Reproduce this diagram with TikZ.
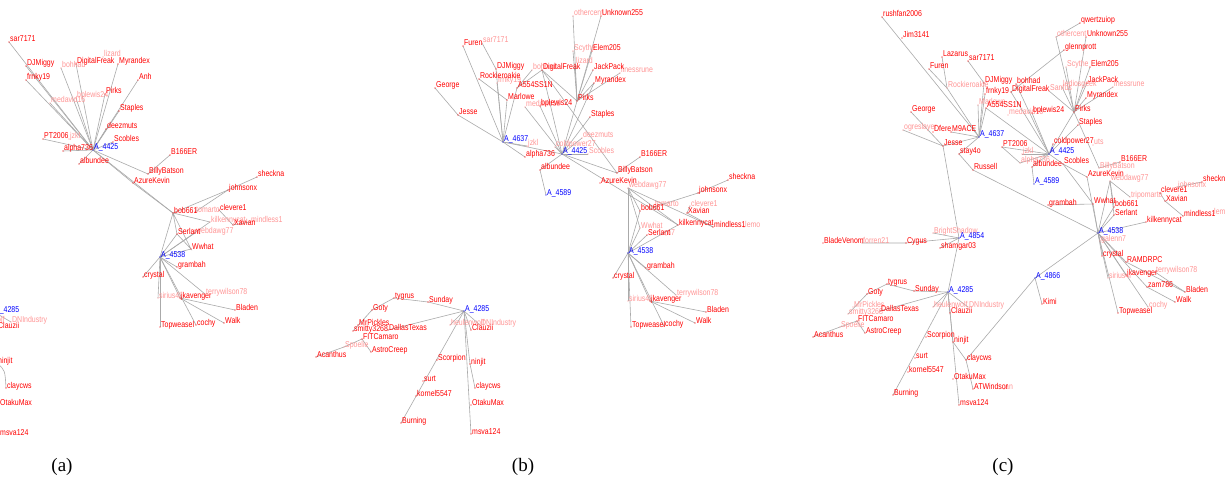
\documentclass[tikz,border=0pt]{standalone}
\usepackage{fontspec}
\newfontfamily\lblfont[FakeStretch=0.82]{Liberation Sans}
\newfontfamily\capfont{Liberation Serif}
\definecolor{cr}{RGB}{255,0,0}
\definecolor{cp}{RGB}{255,150,150}
\definecolor{cb}{RGB}{0,0,255}
\definecolor{egray}{RGB}{170,170,170}
\pgfdeclarelayer{bg}
\pgfdeclarelayer{back}
\pgfsetlayers{back,bg,main}
\tikzset{
  lbl/.style={font=\lblfont\fontsize{8.5}{8.5}\selectfont, inner sep=0pt, anchor=base west, xshift=1pt},
  Lr/.style={lbl,text=cr}, Lp/.style={lbl,text=cp}, Lb/.style={lbl,text=cb},
  edge/.style={draw=egray, line width=0.6pt},
  caption/.style={font=\capfont\fontsize{19}{19}\selectfont, inner sep=0pt}
}
\newcommand\nodept[5]{\coordinate (#1) at (#2,#3); \node[L#4] (#1-t) at (#1) {#5}; \fill[c#4] (#1) circle (0.7);}
\begin{document}
\begin{tikzpicture}[x=1pt,y=-1pt]
\begin{pgfonlayer}{back}
\fill[white] (0,0) rectangle (1225,481);
\end{pgfonlayer}
\useasboundingbox (0,0) rectangle (1225,481);
% ================= panel (a) =================
\nodept{a-sar}{9}{42}{r}{sar7171}
\nodept{a-djm}{26}{66}{r}{DJMiggy}
\nodept{a-frn}{26}{80}{r}{frnky19}
\nodept{a-boh}{61}{68}{p}{bohhad}
\nodept{a-liz}{103}{57}{p}{lizard}
\nodept{a-dig}{76}{64}{r}{DigitalFreak}
\nodept{a-myr}{118}{64}{r}{Myrandex}
\nodept{a-anh}{138}{80}{r}{Anh}
\nodept{a-bpl}{76}{98}{p}{bplewis24}
\nodept{a-med}{50}{103}{p}{medavid16}
\nodept{a-pir}{105}{94}{r}{Pirks}
\nodept{a-sta}{119}{111}{r}{Staples}
\nodept{a-dee}{106}{129}{r}{deezmuts}
\nodept{a-sco}{113}{142}{r}{Scobles}
\nodept{a-jzk}{69}{139}{p}{jzkl}
\nodept{a-pt}{43}{139}{r}{PT2006}
\nodept{a-alp}{63}{151}{r}{alpha736}
\nodept{a-4425}{93}{150}{b}{A\_4425}
\nodept{a-alb}{79}{164}{r}{albundee}
\nodept{a-b166}{170}{155}{r}{B166ER}
\nodept{a-bil}{148}{174}{r}{BillyBatson}
\nodept{a-azu}{133}{183}{r}{AzureKevin}
\nodept{a-she}{257}{177}{r}{sheckna}
\nodept{a-joh}{228}{190}{r}{johnsonx}
\nodept{a-tom}{195}{212}{p}{tomarto}
\nodept{a-bob}{173}{213}{r}{bob661}
\nodept{a-cle}{219}{210}{r}{clevere1}
\nodept{a-kil}{210}{222}{p}{kilkennycat}
\nodept{a-min}{250}{222}{p}{mindless1}
\nodept{a-xav}{233}{225}{r}{Xavian}
\nodept{a-web}{195}{233}{p}{webdawg77}
\nodept{a-ser}{177}{234}{r}{Serlant}
\nodept{a-wwh}{191}{249}{r}{Wwhat}
\nodept{a-4538}{160}{257}{b}{A\_4538}
\nodept{a-gra}{177}{267}{r}{grambah}
\nodept{a-cry}{143}{277}{r}{crystal}
\nodept{a-sir}{158}{298}{p}{sirius4l}
\nodept{a-jka}{180}{298}{r}{jkavenger}
\nodept{a-ter}{205}{294}{p}{terrywilson78}
\nodept{a-bla}{235}{310}{r}{Bladen}
\nodept{a-wal}{224}{323}{r}{Walk}
\nodept{a-top}{160}{327}{r}{Topweasel}
\nodept{a-coc}{196}{325}{r}{cochy}
\nodept{a-4285}{-6}{312}{b}{A\_4285}
\nodept{a-heu}{-30}{322}{p}{heulenwolf}
\nodept{a-dni}{11}{322}{p}{DNIndustry}
\nodept{a-cla}{-3}{328}{r}{Clauzii}
\nodept{a-nin}{-3}{363}{r}{ninjit}
\nodept{a-clw}{6}{388}{r}{claycws}
\nodept{a-ota}{-1}{405}{r}{OtakuMax}
\nodept{a-msv}{-1}{435}{r}{msva124}
\begin{pgfonlayer}{bg}
\foreach \e in {sar,djm,frn,boh,dig,myr,anh,bpl,med,pir,sta,dee,sco,pt,alp,alb,bil,bob,azu}
  \draw[edge] (a-4425) -- (a-\e);
\draw[edge] (a-bil) -- (a-b166);
\draw[edge] (a-azu) -- (a-bob);
\draw[edge] (a-bob) -- (a-joh) -- (a-she);
\draw[edge] (a-joh) -- (a-tom);
\draw[edge] (a-cle) -- (a-xav) -- (a-min);
\foreach \e in {bob,ser,wwh,web,kil,gra,cry,sir,jka,top,coc,ter}
  \draw[edge] (a-4538) -- (a-\e);
\draw[edge] (a-bob) -- (a-ser) -- (a-wwh) -- (a-bob);
\draw[edge] (a-bob) -- (a-kil);
\draw[edge] (a-jka) -- (a-bla);
\draw[edge] (a-jka) -- (a-wal);
\foreach \e in {heu,dni,cla,nin,msv}
  \draw[edge] (a-4285) -- (a-\e);
\draw[edge] (a-nin) .. controls (5,370) .. (a-clw);
\end{pgfonlayer}
% ================= panel (b) =================
\nodept{b-fur}{463}{46}{r}{Furen}
\nodept{b-sar}{482}{43}{p}{sar7171}
\nodept{b-djm}{496}{69}{r}{DJMiggy}
\nodept{b-frn}{497}{83}{p}{frnky19}
\nodept{b-roc}{479}{79}{r}{Rockieroakie}
\nodept{b-geo}{435}{88}{r}{George}
\nodept{b-a55}{517}{88}{r}{A554SS1N}
\nodept{b-mar}{507}{100}{r}{Marlowe}
\nodept{b-jes}{458}{115}{r}{Jesse}
\nodept{b-4637}{503}{142}{b}{A\_4637}
\nodept{b-jzk}{527}{146}{p}{jzkl}
\nodept{b-oth}{573}{16}{p}{othercent}
\nodept{b-unk}{601}{16}{r}{Unknown255}
\nodept{b-scy}{573}{51}{p}{Scythe}
\nodept{b-ele}{592}{51}{r}{Elem205}
\nodept{b-boh}{532}{70}{p}{bohhad}
\nodept{b-liz}{575}{64}{p}{lizard}
\nodept{b-lon}{620}{73}{p}{linessrune}
\nodept{b-dig}{542}{70}{r}{DigitalFreak}
\nodept{b-jac}{593}{70}{r}{JackPack}
\nodept{b-myr}{594}{83}{r}{Myrandex}
\nodept{b-med}{525}{107}{p}{medavid16}
\nodept{b-bpl}{540}{106}{r}{bplewis24}
\nodept{b-pir}{577}{101}{r}{Pirks}
\nodept{b-sta}{590}{117}{r}{Staples}
\nodept{b-dee}{582}{138}{p}{deezmuts}
\nodept{b-col}{555}{147}{p}{coldpower27}
\nodept{b-sco}{588}{154}{p}{Scobles}
\nodept{b-4425}{562}{154}{b}{A\_4425}
\nodept{b-alp}{525}{157}{r}{alpha736}
\nodept{b-alb}{540}{170}{r}{albundee}
\nodept{b-b166}{640}{157}{r}{B166ER}
\nodept{b-bil}{617}{173}{r}{BillyBatson}
\nodept{b-4589}{546}{195}{b}{A\_4589}
\nodept{b-azu}{600}{183}{r}{AzureKevin}
\nodept{b-web}{628}{188}{p}{webdawg77}
\nodept{b-she}{728}{180}{r}{sheckna}
\nodept{b-joh}{698}{193}{r}{johnsonx}
\nodept{b-tom}{654}{207}{p}{tomarto}
\nodept{b-bob}{640}{211}{r}{bob661}
\nodept{b-cle}{690}{206}{p}{clevere1}
\nodept{b-xav}{687}{213}{r}{Xavian}
\nodept{b-kil}{678}{225}{r}{kilkennycat}
\nodept{b-lem}{744}{227}{p}{lemo}
\nodept{b-min}{713}{227}{r}{mindless1}
\nodept{b-wwh}{640}{228}{p}{Wwhat}
\nodept{b-n7}{666}{235}{p}{n7}
\nodept{b-ser}{647}{235}{r}{Serlant}
\nodept{b-4538}{628}{253}{b}{A\_4538}
\nodept{b-gra}{646}{268}{r}{grambah}
\nodept{b-cry}{613}{278}{r}{crystal}
\nodept{b-sir}{628}{301}{p}{sirius4l}
\nodept{b-jka}{650}{301}{r}{jkavenger}
\nodept{b-ter}{676}{295}{p}{terrywilson78}
\nodept{b-bla}{706}{312}{r}{Bladen}
\nodept{b-wal}{695}{323}{r}{Walk}
\nodept{b-top}{631}{327}{r}{Topweasel}
\nodept{b-coc}{664}{326}{r}{cochy}
\nodept{b-tyg}{394}{298}{r}{tygrus}
\nodept{b-sun}{428}{302}{r}{Sunday}
\nodept{b-4285}{464}{311}{b}{A\_4285}
\nodept{b-got}{372}{310}{r}{Goty}
\nodept{b-mrp}{358}{325}{r}{MrPickles}
\nodept{b-smi}{353}{331}{r}{smitty3268}
\nodept{b-dal}{388}{330}{r}{DallasTexas}
\nodept{b-heu}{450}{325}{p}{heulenwolf}
\nodept{b-dni}{480}{325}{p}{DNIndustry}
\nodept{b-cla}{471}{330}{r}{Clauzii}
\nodept{b-fit}{362}{339}{r}{FITCamaro}
\nodept{b-spo}{344}{347}{p}{Spoelie}
\nodept{b-ast}{371}{352}{r}{AstroCreep}
\nodept{b-aca}{316}{357}{r}{Acanthus}
\nodept{b-scp}{437}{360}{r}{Scorpion}
\nodept{b-nin}{470}{364}{r}{ninjit}
\nodept{b-sur}{423}{381}{r}{surt}
\nodept{b-clw}{475}{388}{r}{claycws}
\nodept{b-kor}{416}{396}{r}{kornel5547}
\nodept{b-ota}{471}{405}{r}{OtakuMax}
\nodept{b-bur}{401}{423}{r}{Burning}
\nodept{b-msv}{471}{434}{r}{msva124}
\begin{pgfonlayer}{bg}
\draw[edge] (b-geo) -- (b-jes) -- (b-4637);
\foreach \e in {fur,djm,mar,a55,frn,jzk,4425,alp}
  \draw[edge] (b-4637) -- (b-\e);
\draw[edge] (b-sar) -- (b-djm);
\draw[edge] (b-roc) -- (b-mar);
\draw[edge] (b-boh) -- (b-a55);
\draw[edge] (b-dig) -- (b-a55);
\foreach \e in {oth,unk,scy,ele,liz,jac,lon,myr,dig,4425}
  \draw[edge] (b-pir) -- (b-\e);
\foreach \e in {dig,bpl,med,myr,sta,dee,col,sco,alb,bil,kil}
  \draw[edge] (b-4425) -- (b-\e);
\draw[edge] (b-dig) -- (b-bil) -- (b-b166);
\draw[edge] (b-alb) -- (b-4589);
\foreach \e in {web,bob,wwh,ser,kil,gra,cry,sir,jka,top,coc,ter}
  \draw[edge] (b-4538) -- (b-\e);
\draw[edge] (b-web) -- (b-bob);
\draw[edge] (b-web) -- (b-wwh);
\draw[edge] (b-web) -- (b-kil);
\draw[edge] (b-web) -- (b-min);
\draw[edge] (b-tom) -- (b-joh) -- (b-she);
\draw[edge] (b-cle) -- (b-xav) -- (b-min);
\draw[edge] (b-jka) -- (b-bla);
\draw[edge] (b-jka) -- (b-wal);
\draw[edge] (b-got) -- (b-tyg) -- (b-sun) -- (b-4285);
\draw[edge] (b-got) -- (b-smi);
\draw[edge] (b-fit) -- (b-ast);
\draw[edge] (b-aca) -- (b-spo) -- (b-fit);
\foreach \e in {dal,heu,dni,cla,bur,msv,nin}
  \draw[edge] (b-4285) -- (b-\e);
\draw[edge] (b-nin) -- (b-clw);
\end{pgfonlayer}
% ================= panel (c) =================
\nodept{c-rus}{882}{17}{r}{rushfan2006}
\nodept{c-jim}{902}{38}{r}{Jim3141}
\nodept{c-laz}{942}{57}{r}{Lazarus}
\nodept{c-sar}{968}{61}{r}{sar7171}
\nodept{c-fur}{929}{69}{r}{Furen}
\nodept{c-roc}{947}{88}{p}{Rockieroakie}
\nodept{c-djm}{984}{83}{r}{DJMiggy}
\nodept{c-geo}{911}{112}{r}{George}
\nodept{c-frn}{985}{94}{r}{frnky19}
\nodept{c-mar}{978}{105}{p}{Marlowe}
\nodept{c-a55}{986}{108}{r}{A554SS1N}
\nodept{c-med}{1008}{115}{p}{medavid16}
\nodept{c-ogr}{903}{130}{p}{ogreslayer}
\nodept{c-dfe}{933}{132}{r}{Dfere}
\nodept{c-mac}{951}{132}{r}{M9ACE}
\nodept{c-4637}{979}{137}{b}{A\_4637}
\nodept{c-jes}{943}{146}{r}{Jesse}
\nodept{c-st4}{959}{154}{r}{stay4o}
\nodept{c-rsl}{973}{170}{r}{Russell}
\nodept{c-pt}{1002}{147}{r}{PT2006}
\nodept{c-qwe}{1080}{23}{r}{qwertzuiop}
\nodept{c-oth}{1056}{37}{p}{othercent}
\nodept{c-unk}{1086}{37}{r}{Unknown255}
\nodept{c-gle}{1064}{50}{r}{glennprott}
\nodept{c-scy}{1066}{67}{p}{Scythe}
\nodept{c-ele}{1090}{67}{r}{Elem205}
\nodept{c-boh}{1016}{84}{r}{bohhad}
\nodept{c-dig}{1011}{92}{r}{DigitalFreak}
\nodept{c-san}{1049}{91}{p}{Sanfus}
\nodept{c-led}{1062}{87}{p}{lediosgeek}
\nodept{c-lon}{1113}{87}{p}{lnessrune}
\nodept{c-jac}{1087}{83}{r}{JackPack}
\nodept{c-myr}{1086}{98}{r}{Myrandex}
\nodept{c-pir}{1074}{112}{r}{Pirks}
\nodept{c-bpl}{1032}{113}{r}{bplewis24}
\nodept{c-sta}{1078}{125}{r}{Staples}
\nodept{c-col}{1053}{144}{r}{coldpower27}
\nodept{c-uts}{1093}{145}{p}{uts}
\nodept{c-jzk}{1022}{154}{p}{jzkl}
\nodept{c-alp}{1020}{163}{p}{alpha736}
\nodept{c-4425}{1049}{154}{b}{A\_4425}
\nodept{c-alb}{1032}{167}{r}{albundee}
\nodept{c-sco}{1063}{164}{r}{Scobles}
\nodept{c-4589}{1034}{184}{b}{A\_4589}
\nodept{c-b166}{1120}{162}{r}{B166ER}
\nodept{c-bil}{1099}{168}{p}{BillyBatson}
\nodept{c-azu}{1087}{177}{r}{AzureKevin}
\nodept{c-web}{1110}{181}{p}{webdawg77}
\nodept{c-joh}{1177}{187}{p}{johnsonx}
\nodept{c-she}{1202}{182}{r}{sheckna}
\nodept{c-tri}{1130}{197}{p}{tripomarto}
\nodept{c-cle}{1160}{193}{r}{clevere1}
\nodept{c-gra}{1048}{205}{r}{grambah}
\nodept{c-wwh}{1093}{204}{r}{Wwhat}
\nodept{c-bob}{1114}{207}{r}{bob661}
\nodept{c-xav}{1165}{201}{r}{Xavian}
\nodept{c-ser}{1114}{215}{r}{Serlant}
\nodept{c-lem}{1213}{214}{p}{lemo}
\nodept{c-min}{1183}{216}{r}{mindless1}
\nodept{c-kil}{1146}{222}{r}{kilkennycat}
\nodept{c-4538}{1098}{233}{b}{A\_4538}
\nodept{c-gal}{1100}{241}{p}{galenn7}
\nodept{c-cry}{1102}{256}{r}{crystal}
\nodept{c-ram}{1126}{262}{r}{RAMDRPC}
\nodept{c-ter}{1155}{272}{p}{terrywilson78}
\nodept{c-jka}{1126}{275}{r}{jkavenger}
\nodept{c-sir}{1108}{278}{p}{sirius4l}
\nodept{c-4866}{1035}{278}{b}{A\_4866}
\nodept{c-zam}{1147}{287}{r}{zam786}
\nodept{c-bla}{1185}{292}{r}{Bladen}
\nodept{c-wal}{1175}{302}{r}{Walk}
\nodept{c-kim}{1042}{304}{r}{Kimi}
\nodept{c-top}{1118}{313}{r}{Topweasel}
\nodept{c-coc}{1148}{307}{p}{cochy}
\nodept{c-bri}{933}{233}{p}{BrightShadow}
\nodept{c-4854}{959}{238}{b}{A\_4854}
\nodept{c-bv}{823}{243}{r}{BladeVenom}
\nodept{c-for}{862}{243}{p}{forren21}
\nodept{c-cyg}{906}{243}{r}{Cygus}
\nodept{c-sham}{940}{248}{r}{shamgar03}
\nodept{c-tyg}{887}{284}{r}{tygrus}
\nodept{c-sun}{914}{291}{r}{Sunday}
\nodept{c-4285}{948}{292}{b}{A\_4285}
\nodept{c-got}{867}{294}{r}{Goty}
\nodept{c-mrp}{853}{307}{p}{MrPickles}
\nodept{c-smi}{848}{314}{p}{smitty3268}
\nodept{c-dal}{880}{311}{r}{DallasTexas}
\nodept{c-heu}{933}{307}{p}{heulenwolf}
\nodept{c-dni}{968}{307}{p}{DNIndustry}
\nodept{c-cla}{950}{313}{r}{Clauzii}
\nodept{c-fit}{857}{321}{r}{FITCamaro}
\nodept{c-spo}{840}{327}{p}{Spoelie}
\nodept{c-ast}{865}{333}{r}{AstroCreep}
\nodept{c-aca}{813}{337}{r}{Acanthus}
\nodept{c-scp}{926}{337}{r}{Scorpion}
\nodept{c-nin}{953}{342}{r}{ninjit}
\nodept{c-sur}{915}{358}{r}{surt}
\nodept{c-clw}{966}{360}{r}{claycws}
\nodept{c-kor}{908}{372}{r}{kornel5547}
\nodept{c-ota}{953}{379}{r}{OtakuMax}
\nodept{c-an}{1004}{389}{p}{an}
\nodept{c-atw}{973}{389}{r}{ATWindsor}
\nodept{c-bur}{893}{395}{r}{Burning}
\nodept{c-msv}{959}{405}{r}{msva124}
\begin{pgfonlayer}{bg}
\draw[edge] (c-rus) -- (c-4637);
\draw[edge] (c-laz) -- (c-roc);
\draw[edge] (c-fur) -- (c-roc) -- (c-4637);
\draw[edge] (c-sar) -- (c-djm);
\foreach \e in {djm,frn,mar,a55,mac,jes,st4}
  \draw[edge] (c-4637) -- (c-\e);
\draw[edge] (c-geo) -- (c-jes);
\draw[edge] (c-ogr) -- (c-jes);
\draw[edge] (c-jes) -- (c-4854);
\draw[edge] (c-st4) -- (c-rsl) -- (c-4538);
\foreach \e in {a55,boh,dig,bpl,pir,sta,col,sco,alb,alp,jzk,pt}
  \draw[edge] (c-4425) -- (c-\e);
\draw[edge] (c-pt) -- (c-alp);
\draw[edge] (c-qwe) -- (c-oth);
\draw[edge] (c-gle) -- (c-dig);
\foreach \e in {oth,unk,scy,ele,jac,led,lon,myr,san,bil}
  \draw[edge] (c-pir) -- (c-\e);
\draw[edge] (c-bil) -- (c-b166);
\draw[edge] (c-alb) -- (c-4589);
\draw[edge] (c-sco) -- (c-azu) -- (c-4538);
\draw[edge] (c-sco) -- (c-wwh);
\foreach \e in {web,wwh,bob,ser,kil,gal,cry,ram,jka,sir,top,coc,zam,4866}
  \draw[edge] (c-4538) -- (c-\e);
\draw[edge] (c-gra) -- (c-wwh);
\draw[edge] (c-web) -- (c-tri);
\draw[edge] (c-web) -- (c-ser);
\draw[edge] (c-web) -- (c-bob);
\draw[edge] (c-joh) -- (c-she);
\draw[edge] (c-cle) -- (c-xav) -- (c-min);
\draw[edge] (c-ram) -- (c-bla);
\draw[edge] (c-ter) -- (c-bla);
\draw[edge] (c-zam) -- (c-wal);
\draw[edge] (c-4866) -- (c-kim);
\draw[edge] (c-4866) -- (c-clw);
\draw[edge] (c-bri) -- (c-4854);
\draw[edge] (c-sham) -- (c-4854);
\draw[edge] (c-for) -- (c-cyg) -- (c-4854);
\draw[edge] (c-4854) -- (c-4285);
\draw[edge] (c-got) -- (c-tyg) -- (c-sun) -- (c-4285);
\draw[edge] (c-got) -- (c-smi);
\draw[edge] (c-aca) -- (c-spo) -- (c-fit);
\draw[edge] (c-fit) -- (c-ast);
\foreach \e in {dal,heu,cla,dni,bur,nin,msv}
  \draw[edge] (c-4285) -- (c-\e);
\draw[edge] (c-nin) -- (c-clw) -- (c-atw);
\end{pgfonlayer}
% ================= captions =================
\node[caption] (capa) at (62,467) {(a)};
\node[caption] (capb) at (523,467) {(b)};
\node[caption] (capc) at (1003,467) {(c)};
\end{tikzpicture}
\end{document}
